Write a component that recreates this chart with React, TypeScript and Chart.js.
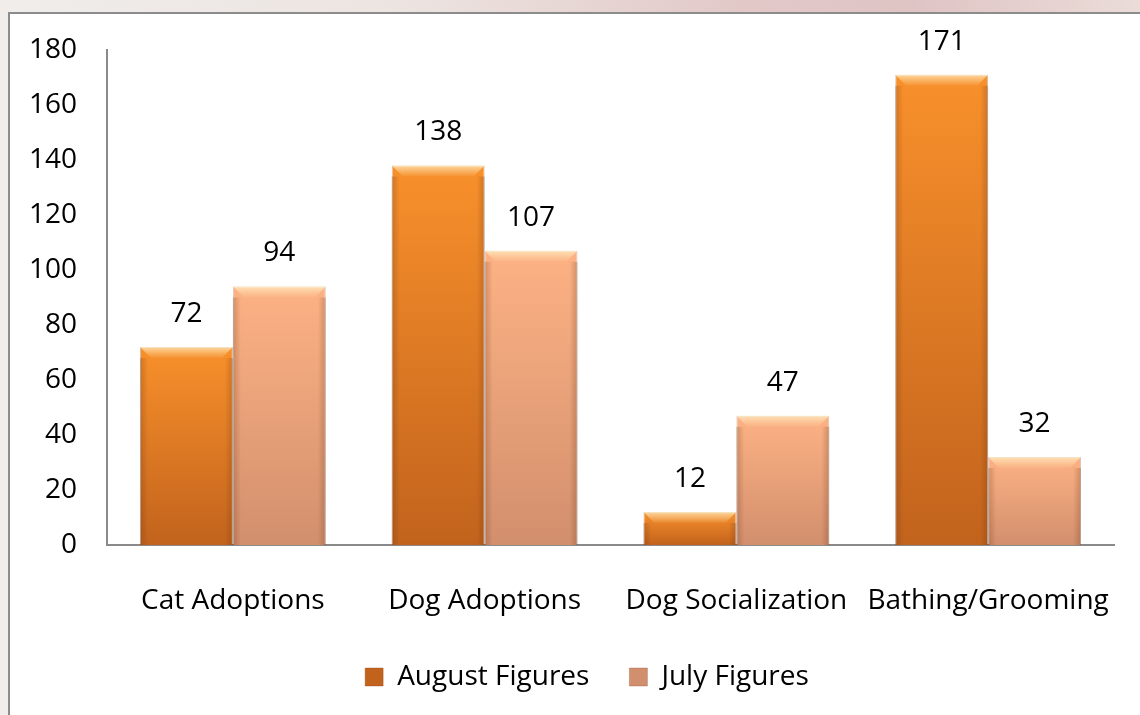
import React, { useEffect, useRef } from "react";
import { Chart, registerables } from "chart.js";

Chart.register(...registerables);

const categories = ["Cat Adoptions", "Dog Adoptions", "Dog Socialization", "Bathing/Grooming"];
const augustFigures = [72, 138, 12, 171];
const julyFigures = [94, 107, 47, 32];
const seriesNames = ["August Figures", "July Figures"];
const yMin = 0;
const yMax = 180;
const yStep = 20;

const FONT = '"Open Sans", "Noto Sans", sans-serif';

function barGradient(top: string, bottom: string, solid: string) {
  return (c: any) => {
    const chart = c.chart;
    const y = chart.scales && chart.scales.y;
    if (c.type !== "data" || !y || !chart.chartArea) return solid;
    const v = c.raw as number;
    const y0 = y.getPixelForValue(v);
    const y1 = y.getPixelForValue(0);
    if (!isFinite(y0) || !isFinite(y1) || y0 === y1) return solid;
    const g = chart.ctx.createLinearGradient(0, y0, 0, y1);
    g.addColorStop(0, top);
    g.addColorStop(1, bottom);
    return g;
  };
}

const bevel = {
  id: "bevel",
  afterDatasetsDraw(chart: any) {
    const ctx = chart.ctx;
    ctx.save();
    chart.data.datasets.forEach((_ds: any, i: number) => {
      chart.getDatasetMeta(i).data.forEach((bar: any) => {
        const w = bar.width;
        const l = bar.x - w / 2;
        const r = bar.x + w / 2;
        const t = bar.y;
        const b = bar.base;
        const h = Math.min(11, (b - t) / 2);
        const g = ctx.createLinearGradient(0, t, 0, t + h);
        g.addColorStop(0, "rgba(255,240,200,0.75)");
        g.addColorStop(1, "rgba(255,230,180,0.05)");
        ctx.fillStyle = g;
        ctx.beginPath();
        ctx.moveTo(l, t);
        ctx.lineTo(r, t);
        ctx.lineTo(r - h, t + h);
        ctx.lineTo(l + h, t + h);
        ctx.closePath();
        ctx.fill();
        const gl = ctx.createLinearGradient(l, 0, l + 8, 0);
        gl.addColorStop(0, "rgba(90,40,10,0.25)");
        gl.addColorStop(1, "rgba(90,40,10,0)");
        ctx.fillStyle = gl;
        ctx.fillRect(l, t + h, 8, b - t - h);
        const gr = ctx.createLinearGradient(r - 8, 0, r, 0);
        gr.addColorStop(0, "rgba(90,40,10,0)");
        gr.addColorStop(1, "rgba(90,40,10,0.25)");
        ctx.fillStyle = gr;
        ctx.fillRect(r - 8, t + h, 8, b - t - h);
      });
    });
    ctx.restore();
  },
};

const valueLabels = {
  id: "valueLabels",
  afterDatasetsDraw(chart: any) {
    const ctx = chart.ctx;
    ctx.save();
    ctx.font = `28px ${FONT}`;
    ctx.fillStyle = "#000";
    ctx.textAlign = "center";
    ctx.textBaseline = "middle";
    chart.data.datasets.forEach((ds: any, i: number) => {
      chart.getDatasetMeta(i).data.forEach((bar: any, j: number) => {
        ctx.fillText(String(ds.data[j]), bar.x, bar.y - 33);
      });
    });
    ctx.restore();
  },
};

const legendShift = {
  id: "legendShift",
  afterLayout(chart: any) {
    const l = chart.legend;
    if (l) {
      l.left += 30;
      l.right += 30;
    }
  },
};

export default function App() {
  const ref = useRef<HTMLCanvasElement | null>(null);

  useEffect(() => {
    if (!ref.current) return;
    const chart = new Chart(ref.current, {
      type: "bar",
      data: {
        labels: categories,
        datasets: [
          {
            label: seriesNames[0],
            data: augustFigures,
            backgroundColor: barGradient("#F8902B", "#C2631D", "#D2701F"),
            borderColor: "rgba(150,70,20,0.35)",
            borderWidth: 1,
          },
          {
            label: seriesNames[1],
            data: julyFigures,
            backgroundColor: barGradient("#FDB284", "#D28F6D", "#E09C78"),
            borderColor: "rgba(150,90,60,0.35)",
            borderWidth: 1,
          },
        ],
      },
      options: {
        responsive: false,
        animation: false,
        devicePixelRatio: 1,
        layout: { autoPadding: false, padding: { top: 50, right: 26, bottom: 14, left: 0 } },
        datasets: {
          bar: { categoryPercentage: 0.738, barPercentage: 1 },
        },
        scales: {
          x: {
            grid: { display: false, drawTicks: false },
            border: { display: true, color: "#8a8a8a", width: 2 },
            ticks: { color: "#000", font: { family: FONT, size: 28 }, padding: 39, maxRotation: 0, autoSkip: false },
            afterFit: (s: any) => {
              s.height = 78;
              s.paddingLeft = 0;
              s.paddingRight = 0;
            },
          },
          y: {
            min: yMin,
            max: yMax,
            grid: { display: false, drawTicks: false },
            border: { display: true, color: "#8a8a8a", width: 2 },
            ticks: { stepSize: yStep, color: "#000", font: { family: FONT, size: 28 }, padding: 30 },
            afterFit: (s: any) => {
              s.width = 107;
              s.paddingTop = 0;
              s.paddingBottom = 0;
            },
          },
        },
        plugins: {
          legend: {
            position: "bottom",
            labels: {
              color: "#000",
              font: { family: FONT, size: 28 },
              boxWidth: 18,
              boxHeight: 18,
              padding: 40,
            },
          },
          tooltip: { enabled: false },
        },
      },
      plugins: [bevel, valueLabels, legendShift],
    });
    return () => chart.destroy();
  }, []);

  return (
    <div
      style={{
        position: "fixed",
        left: 0,
        top: 0,
        width: 1140,
        height: 715,
        overflow: "hidden",
        background: "linear-gradient(90deg, #f0edeb 0%, #ece4e1 35%, #e2c9c8 65%, #dfc4c4 80%, #ebdcd8 100%)",
      }}
    >
      <div
        style={{
          position: "absolute",
          left: 8,
          top: 12,
          width: 1200,
          height: 800,
          background: "#fff",
          border: "2px solid #8c8c8c",
        }}
      />
      <canvas
        ref={ref}
        width={1140}
        height={715}
        style={{ position: "absolute", left: 0, top: 0, width: 1140, height: 715 }}
      />
    </div>
  );
}
